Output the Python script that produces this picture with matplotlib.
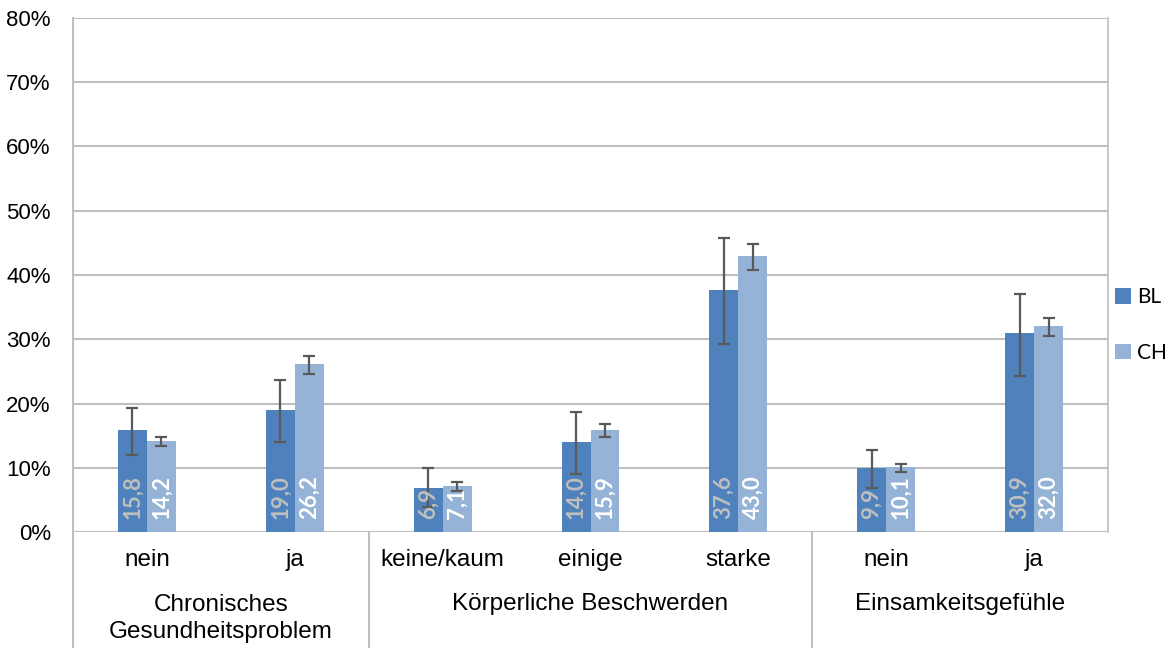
import matplotlib
matplotlib.use("Agg")
import matplotlib.pyplot as plt
import numpy as np

subcats = ["nein", "ja", "keine/kaum", "einige", "starke", "nein", "ja"]
groups = ["Chronisches\nGesundheitsproblem", "Körperliche Beschwerden", "Einsamkeitsgefühle"]
group_sizes = [2, 3, 2]
series = ["BL", "CH"]
bl = [15.8, 19.0, 6.9, 14.0, 37.6, 9.9, 30.9]
ch = [14.2, 26.2, 7.1, 15.9, 43.0, 10.1, 32.0]
bl_low = [12.0, 14.0, 3.9, 9.0, 29.3, 6.9, 24.3]
bl_high = [19.3, 23.7, 10.0, 18.7, 45.8, 12.8, 37.0]
ch_low = [13.4, 24.6, 6.4, 14.8, 40.8, 9.3, 30.5]
ch_high = [14.8, 27.4, 7.8, 16.8, 44.8, 10.6, 33.3]
yticks = [0, 10, 20, 30, 40, 50, 60, 70, 80]

c_bl = "#4F81BD"
c_ch = "#95B3D7"
grid_c = "#BFBFBF"

fig = plt.figure(figsize=(11.7, 6.48), dpi=100)
ax = fig.add_axes([73/1170, 116/648, 1035/1170, 514/648])

n = len(subcats)
x = np.arange(n)
w = 0.196

ax.set_xlim(-0.5, n - 0.5)
ax.set_ylim(0, 80)
ax.set_yticks(yticks)
ax.set_yticklabels([f"{t}%" for t in yticks], fontsize=16, family="Liberation Sans")
ax.tick_params(axis="y", length=0, pad=16)
ax.set_xticks([])
for t in yticks:
    ax.axhline(t, color=grid_c, lw=1.5, zorder=0)
for s in ["top", "bottom"]:
    ax.spines[s].set_visible(False)
ax.spines["right"].set_color(grid_c)
ax.spines["right"].set_linewidth(1.2)
ax.spines["left"].set_visible(False)

b1 = ax.bar(x - w/2, bl, w, color=c_bl, zorder=2, label="BL")
b2 = ax.bar(x + w/2, ch, w, color=c_ch, zorder=2, label="CH")

err_bl = [np.array(bl) - np.array(bl_low), np.array(bl_high) - np.array(bl)]
err_ch = [np.array(ch) - np.array(ch_low), np.array(ch_high) - np.array(ch)]
ax.errorbar(x - w/2, bl, yerr=err_bl, fmt="none", ecolor="#595959", elinewidth=1.6, capsize=4.5, capthick=1.6, zorder=3)
ax.errorbar(x + w/2, ch, yerr=err_ch, fmt="none", ecolor="#595959", elinewidth=1.6, capsize=4.5, capthick=1.6, zorder=3)

for xi, v in zip(x, bl):
    ax.text(xi - w/2, 2.1, f"{v:.1f}".replace(".", ","), rotation=90, ha="center", va="bottom",
            color="#BFBFBF", fontsize=16, fontweight="bold", family="Lato", zorder=4)
for xi, v in zip(x, ch):
    ax.text(xi + w/2, 2.1, f"{v:.1f}".replace(".", ","), rotation=90, ha="center", va="bottom",
            color="white", fontsize=16, fontweight="bold", family="Lato", zorder=4)

trans = ax.get_xaxis_transform()
ax.plot([-0.5, -0.5], [1, -0.23], transform=trans, color=grid_c, lw=1.5, clip_on=False, zorder=1)
for xi, lab in zip(x, subcats):
    ax.text(xi, -0.055, lab, transform=trans, ha="center", va="center", fontsize=17.5, family="Liberation Sans")
start = 0
for g, sz in zip(groups, group_sizes):
    center = start + (sz - 1) / 2
    if "\n" in g:
        ax.text(center, -0.168, g, transform=trans, ha="center", va="center", fontsize=17.5,
                family="Liberation Sans", linespacing=1.3)
    else:
        ax.text(center, -0.141, g, transform=trans, ha="center", va="center", fontsize=17.5,
                family="Liberation Sans")
    start += sz
    if start < n:
        ax.plot([start - 0.5, start - 0.5], [0, -0.23], transform=trans, color=grid_c, lw=1.5,
                clip_on=False, zorder=1)

leg = ax.legend(handles=[b1, b2], labels=series, loc="center left", bbox_to_anchor=(1.0, 0.403),
                frameon=False, handlelength=0.75, handleheight=0.75, labelspacing=1.7,
                handletextpad=0.3, borderaxespad=0.15, borderpad=0.2,
                prop={"family": "Lato", "size": 15})

fig.savefig("out.png", dpi=100)
